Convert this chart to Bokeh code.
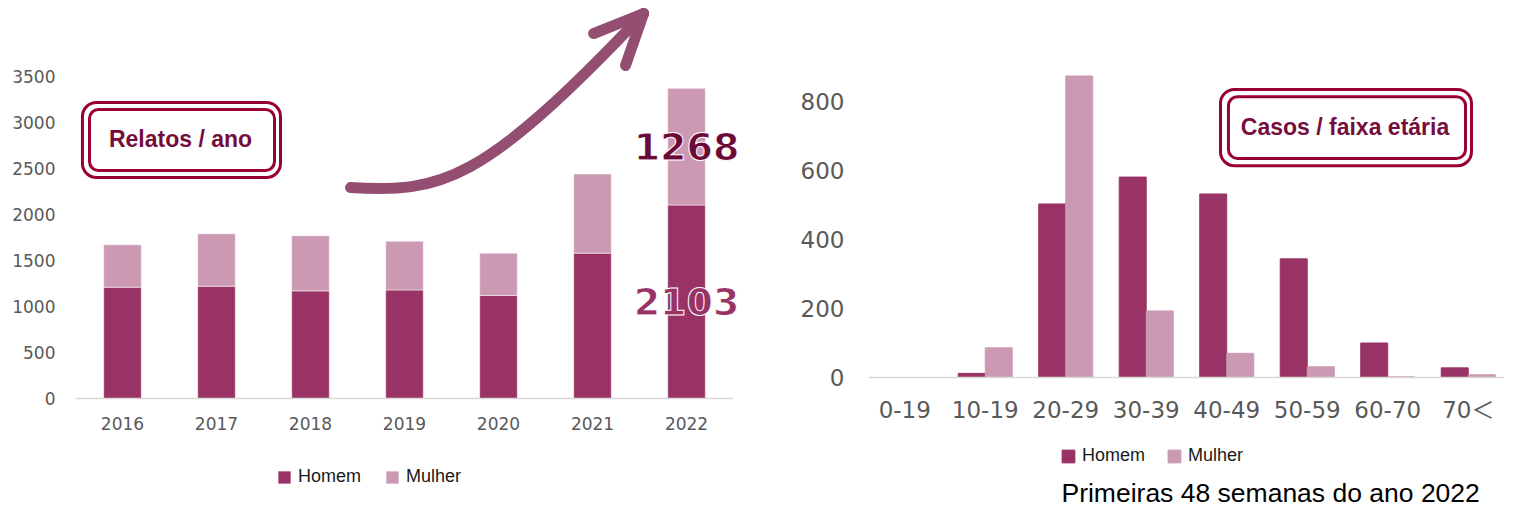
from bokeh.plotting import figure
from bokeh.models import (FactorRange, Range1d, FixedTicker, Legend, LegendItem,
                          Label, BoxAnnotation, ColumnDataSource)
from bokeh.layouts import row
from bokeh.transform import dodge
from bokeh.embed import file_html
from bokeh.resources import INLINE

# ---------------- data ----------------
years = ["2016", "2017", "2018", "2019", "2020", "2021", "2022"]
homem_ano = [1210, 1220, 1170, 1180, 1120, 1580, 2103]
mulher_ano = [460, 570, 600, 530, 460, 860, 1268]
y_ticks_ano = [0, 500, 1000, 1500, 2000, 2500, 3000, 3500]

faixas = ["0-19", "10-19", "20-29", "30-39", "40-49", "50-59", "60-70", "70＜"]
homem_faixa = [0, 12, 503, 581, 532, 344, 100, 28]
mulher_faixa = [0, 86, 874, 193, 70, 31, 2, 8]
y_ticks_faixa = [0, 200, 400, 600, 800]

series = ["Homem", "Mulher"]
title_ano = "Relatos / ano"
title_faixa = "Casos / faixa etária"
footnote = "Primeiras 48 semanas do ano 2022"

# ---------------- styles ----------------
C_HOMEM = "#993366"
C_MULHER = "#cc99b3"
C_BORDER = "#990033"
C_BOXTEXT = "#750d3d"
C_TICK = "#595959"
C_AXIS = "#d9d9d9"
C_ARROW = "#944e71"


def style_common(p):
    p.xgrid.visible = False
    p.ygrid.visible = False
    p.outline_line_color = None
    p.background_fill_color = "white"
    p.border_fill_color = "white"
    for ax in p.yaxis:
        ax.axis_line_color = None
        ax.major_tick_line_color = None
        ax.minor_tick_line_color = None
        ax.major_tick_out = 0
        ax.major_tick_in = 0
        ax.major_label_text_color = C_TICK
        ax.major_label_text_font = "DejaVu Sans"
    for ax in p.xaxis:
        ax.fixed_location = 0
        ax.axis_line_color = C_AXIS
        ax.axis_line_width = 1.5
        ax.major_tick_line_color = None
        ax.minor_tick_line_color = None
        ax.major_tick_out = 0
        ax.major_tick_in = 0
        ax.major_label_text_color = C_TICK
        ax.major_label_text_font = "DejaVu Sans"


def make_legend(renderers, loc, spacing):
    lg = Legend(items=[LegendItem(label=s, renderers=[r]) for s, r in zip(series, renderers)],
                orientation="horizontal", location=loc)
    lg.border_line_color = None
    lg.background_fill_alpha = 0
    lg.padding = 0
    lg.margin = 0
    lg.spacing = spacing
    lg.glyph_width = 16
    lg.glyph_height = 16
    lg.label_standoff = 6
    lg.label_height = 16
    lg.label_text_font = "Liberation Sans"
    lg.label_text_font_size = "18px"
    lg.label_text_color = "#1a1a1a"
    return lg


def double_box(p, outer, inner, text, tx, ty):
    l, r, t, b = outer
    p.add_layout(BoxAnnotation(left=l, right=r, top=t, bottom=b, fill_color="white",
                               fill_alpha=1, line_color=C_BORDER, line_alpha=1, line_width=3,
                               border_radius=14))
    l, r, t, b = inner
    p.add_layout(BoxAnnotation(left=l, right=r, top=t, bottom=b, fill_alpha=0,
                               line_color=C_BORDER, line_alpha=1, line_width=3,
                               border_radius=9))
    p.add_layout(Label(x=tx, y=ty, text=text, text_align="center", text_baseline="middle",
                       text_font="Liberation Sans", text_font_style="bold",
                       text_font_size="23px", text_color=C_BOXTEXT))


# ---------------- left chart ----------------
src1 = ColumnDataSource(dict(year=years, Homem=homem_ano, Mulher=mulher_ano))
x1 = FactorRange(*years, range_padding=0.287, range_padding_units="absolute")
p1 = figure(width=760, height=507, x_range=x1, y_range=Range1d(-1184.8, 4326.1),
            output_backend="svg", toolbar_location=None,
            min_border_left=48, min_border_right=0, min_border_top=0, min_border_bottom=0)
style_common(p1)
p1.yaxis.ticker = FixedTicker(ticks=y_ticks_ano)
p1.yaxis.major_label_text_font_size = "17px"
p1.yaxis.major_label_standoff = -7
p1.xaxis.major_label_text_font_size = "17px"
p1.xaxis.major_label_standoff = 19
p1.xaxis.bounds = (0, len(years))

rs1 = p1.vbar_stack(series, x="year", width=0.4, color=[C_HOMEM, C_MULHER], source=src1,
                    line_color="white", line_width=0.5)
p1.add_layout(make_legend(rs1, (228, 20), 23), "center")

double_box(p1, (0.074, 2.181, 3217, 2402), (0.149, 2.117, 3141, 2478),
           title_ano, 1.117, 2826)

# growth arrow (decoration)
p1.bezier(x0=[2.926], y0=[2293], cx0=[3.883], cy0=[2239], cx1=[4.309], cy1=[2315],
          x1=[6.043], y1=[4185], line_color=C_ARROW, line_width=11, line_cap="round")
p1.segment(x0=[6.043, 6.043], y0=[4185, 4185], x1=[5.511, 5.851], y1=[3967, 3620],
           line_color=C_ARROW, line_width=11, line_cap="round")

i22 = years.index("2022") + 0.5
p1.add_layout(Label(x=i22, y=homem_ano[-1] + mulher_ano[-1] / 2, text=str(mulher_ano[-1]),
                    text_align="center", text_baseline="middle", text_font="DejaVu Sans",
                    text_font_style="bold", text_font_size="38px", text_color="#6b0a37",
                    text_outline_color="white"))
p1.add_layout(Label(x=i22, y=homem_ano[-1] / 2, text=str(homem_ano[-1]),
                    text_align="center", text_baseline="middle", text_font="DejaVu Sans",
                    text_font_style="bold", text_font_size="38px", text_color=C_HOMEM,
                    text_outline_color="white"))

# ---------------- right chart ----------------
src2 = ColumnDataSource(dict(faixa=faixas, Homem=homem_faixa, Mulher=mulher_faixa))
x2 = FactorRange(*faixas, range_padding=-0.05, range_padding_units="absolute")
p2 = figure(width=744, height=507, x_range=x2, y_range=Range1d(-376.8, 1092.8),
            output_backend="svg", toolbar_location=None,
            min_border_left=108, min_border_right=0, min_border_top=0, min_border_bottom=0)
style_common(p2)
p2.yaxis.ticker = FixedTicker(ticks=y_ticks_faixa)
p2.yaxis.major_label_text_font_size = "23px"
p2.yaxis.major_label_standoff = 24
p2.xaxis.major_label_text_font_size = "23px"
p2.xaxis.major_label_text_font = "DejaVu Sans, Noto Sans CJK JP"
p2.xaxis.major_label_standoff = 19

rh = p2.vbar(x=dodge("faixa", -0.168, range=p2.x_range), top="Homem", width=0.335,
             color=C_HOMEM, source=src2)
rm = p2.vbar(x=dodge("faixa", 0.168, range=p2.x_range), top="Mulher", width=0.335,
             color=C_MULHER, source=src2)
p2.add_layout(make_legend([rh, rm], (192, 41), 21), "center")

double_box(p2, (4.422, 7.540, 835, 614), (4.521, 7.466, 814, 635),
           title_faixa, 5.969, 725)

p2.add_layout(Label(x=2.447, y=-336, text=footnote, text_align="left",
                    text_baseline="middle", text_font="Liberation Sans",
                    text_font_size="26.5px", text_color="black"))

layout = row(p1, p2)
open("out.html", "w").write(file_html(layout, INLINE))
